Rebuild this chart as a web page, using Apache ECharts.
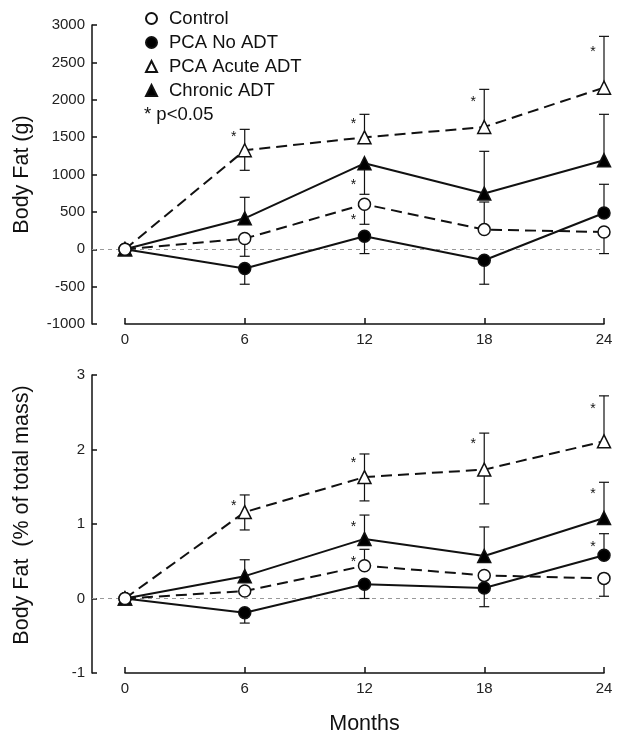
<!DOCTYPE html>
<html>
<head>
<meta charset="utf-8">
<script src="https://cdn.jsdelivr.net/npm/echarts@6/dist/echarts.min.js"></script>
<style>
  html, body { margin: 0; padding: 0; background: #fff; }
  #chart { width: 624px; height: 741px; }
</style>
</head>
<body>
<div id="chart"></div>
<script>
// months of follow-up
var months = [0, 6, 12, 18, 24];
var names = ['Control', 'PCA No ADT', 'PCA Acute ADT', 'Chronic ADT'];

// body fat, grams (top panel)
var controlG = [0, 143, 602, 263, 231];
var noAdtG = [0, -258, 174, -147, 485];
var acuteG = [0, 1324, 1497, 1635, 2162];
var chronicG = [0, 414, 1150, 745, 1190];
// visible error bar lengths (up / down), grams
var controlGUp = [0, 0, 0, 369, 0];
var controlGDn = [0, 237, 268, 0, 289];
var noAdtGUp = [0, 0, 0, 0, 384];
var noAdtGDn = [0, 210, 232, 321, 0];
var acuteGUp = [0, 280, 308, 504, 686];
var acuteGDn = [0, 268, 0, 0, 0];
var chronicGUp = [0, 281, 0, 565, 615];
var chronicGDn = [0, 0, 415, 0, 0];
// significance stars, grams
var starsG = [[6, 1551], [12, 1725], [12, 909], [12, 441], [18, 2019], [24, 2687]];

// body fat, % of total mass (bottom panel)
var controlP = [0, 0.10, 0.44, 0.31, 0.27];
var noAdtP = [0, -0.19, 0.19, 0.14, 0.58];
var acuteP = [0, 1.16, 1.63, 1.73, 2.11];
var chronicP = [0, 0.30, 0.80, 0.57, 1.08];
var controlPUp = [0, 0, 0.22, 0, 0];
var controlPDn = [0, 0, 0, 0, 0.24];
var noAdtPUp = [0, 0, 0, 0, 0.29];
var noAdtPDn = [0, 0.14, 0.19, 0.25, 0];
var acutePUp = [0, 0.23, 0.31, 0.49, 0.61];
var acutePDn = [0, 0.24, 0.32, 0.46, 0];
var chronicPUp = [0, 0.22, 0.32, 0.39, 0.48];
var chronicPDn = [0, 0, 0, 0, 0];
var starsP = [[6, 1.29], [12, 1.87], [12, 1.01], [12, 0.54], [18, 2.12], [24, 2.60], [24, 1.45], [24, 0.74]];

var FONT = 'Liberation Sans, Arial, sans-serif';
var XMIN = -1.652; // y axis sits left of month 0

var styles = [
  { symbol: 'circle', size: 12, fill: '#fff', dash: [11, 6], z: 4 },
  { symbol: 'circle', size: 12, fill: '#000', dash: 'solid', z: 3 },
  { symbol: 'triangle', size: 13, fill: '#fff', dash: [11, 6], z: 3 },
  { symbol: 'triangle', size: 13, fill: '#000', dash: 'solid', z: 3 }
];

function pairs(vals) {
  return months.map(function (m, i) { return [m, vals[i]]; });
}

function errData(list) { // list of [values, up, down]
  var out = [];
  list.forEach(function (s) {
    months.forEach(function (m, i) { out.push([m, s[0][i], s[1][i], s[2][i]]); });
  });
  return out;
}

function renderErr(params, api) {
  var x = api.value(0), y = api.value(1);
  var kids = [];
  [[api.value(2), 1], [api.value(3), -1]].forEach(function (e) {
    if (!e[0]) return;
    var p0 = api.coord([x, y]);
    var p1 = api.coord([x, y + e[0] * e[1]]);
    var st = { stroke: '#111', lineWidth: 1.2 };
    kids.push({ type: 'line', shape: { x1: p0[0], y1: p0[1], x2: p1[0], y2: p1[1] }, style: st });
    kids.push({ type: 'line', shape: { x1: p1[0] - 5, y1: p1[1], x2: p1[0] + 5, y2: p1[1] }, style: st });
  });
  return { type: 'group', children: kids };
}

function renderStar(params, api) {
  var p = api.coord([api.value(0), api.value(1)]);
  return {
    type: 'text', x: p[0] - 11, y: p[1] + 4,
    style: { text: '*', fill: '#111', font: '14px ' + FONT, align: 'center', verticalAlign: 'middle' }
  };
}

function panelSeries(idx, data, errs, stars) {
  var out = [];
  out.push({
    type: 'custom', xAxisIndex: idx, yAxisIndex: idx, z: 1, silent: true,
    renderItem: renderErr, data: errData(errs)
  });
  data.forEach(function (vals, k) {
    var s = styles[k];
    var ser = {
      name: names[k], type: 'line', xAxisIndex: idx, yAxisIndex: idx, z: s.z,
      data: pairs(vals), symbol: s.symbol, symbolSize: s.size,
      lineStyle: { color: '#111', width: 2, type: s.dash },
      itemStyle: { color: s.fill, borderColor: '#111', borderWidth: 1.5 },
      emphasis: { disabled: true }
    };
    if (k === 0) {
      ser.markLine = {
        silent: true, symbol: 'none', label: { show: false }, z: 1,
        lineStyle: { color: '#999', width: 1, type: [4, 4] },
        data: [{ yAxis: 0 }]
      };
    }
    out.push(ser);
  });
  out.push({
    type: 'custom', xAxisIndex: idx, yAxisIndex: idx, z: 5, silent: true,
    renderItem: renderStar, data: stars
  });
  return out;
}

// display axes (x axis line starts at month 0)
function showX(grid, name) {
  return {
    type: 'value', gridIndex: grid, min: 0, max: 24, interval: 6,
    name: name || '', nameLocation: 'middle', nameGap: 40,
    nameTextStyle: { fontSize: 21.5, color: '#111', fontFamily: FONT },
    axisLine: { show: true, onZero: false, lineStyle: { color: '#111', width: 1.5 } },
    axisTick: { show: true, inside: true, length: 6, lineStyle: { color: '#111', width: 1.5 } },
    axisLabel: { fontSize: 15, color: '#222', margin: 8, fontFamily: FONT },
    splitLine: { show: false }
  };
}
function hiddenX(grid) {
  return { type: 'value', gridIndex: grid, min: XMIN, max: 24, show: false, splitLine: { show: false } };
}
function showY(grid, min, max, step, name, shift) {
  return {
    type: 'value', gridIndex: grid, min: min, max: max, interval: step,
    name: name, nameLocation: 'middle', nameGap: 59, nameMoveOverlap: false,
    nameTextStyle: { fontSize: 21.5, color: '#111', fontFamily: FONT, padding: [0, 0, 0, shift] },
    axisLine: { show: true, onZero: false, lineStyle: { color: '#111', width: 1.5 } },
    axisTick: { show: true, inside: true, length: 5, lineStyle: { color: '#111', width: 1.5 } },
    axisLabel: {
      fontSize: 15, color: '#222', margin: 7, fontFamily: FONT,
      formatter: function (v) { return String(v); }
    },
    splitLine: { show: false }
  };
}
function hiddenY(grid) {
  return { type: 'value', gridIndex: grid, min: 0, max: 1, show: false, splitLine: { show: false } };
}

var chart = echarts.init(document.getElementById('chart'));

var option = {
  backgroundColor: '#fff',
  animation: false,
  textStyle: { fontFamily: FONT },
  grid: [
    { left: 92, right: 20, top: 25, height: 299 },
    { left: 125, right: 20, top: 25, height: 299 },
    { left: 92, right: 20, top: 375, height: 298 },
    { left: 125, right: 20, top: 375, height: 298 }
  ],
  xAxis: [hiddenX(0), showX(1), hiddenX(2), showX(3, 'Months')],
  yAxis: [
    showY(0, -1000, 3000, 500, 'Body Fat (g)', 0),
    hiddenY(1),
    showY(2, -1, 3, 1, 'Body Fat  (% of total mass)', 18),
    hiddenY(3)
  ],
  legend: {
    orient: 'vertical', left: 140, top: 4,
    itemWidth: 11, itemHeight: 11, itemGap: 5,
    textStyle: { fontSize: 18.5, color: '#111', fontFamily: FONT, padding: [0, 0, 0, 7] },
    selectedMode: false,
    data: names.map(function (n, k) {
      return { name: n, icon: styles[k].symbol };
    })
  },
  graphic: [{
    type: 'text', left: 144, top: 105,
    style: { text: '* p<0.05', font: '18.5px ' + FONT, fill: '#111' }
  }],
  series: [].concat(
    panelSeries(0, [controlG, noAdtG, acuteG, chronicG], [
      [controlG, controlGUp, controlGDn],
      [noAdtG, noAdtGUp, noAdtGDn],
      [acuteG, acuteGUp, acuteGDn],
      [chronicG, chronicGUp, chronicGDn]
    ], starsG),
    panelSeries(2, [controlP, noAdtP, acuteP, chronicP], [
      [controlP, controlPUp, controlPDn],
      [noAdtP, noAdtPUp, noAdtPDn],
      [acuteP, acutePUp, acutePDn],
      [chronicP, chronicPUp, chronicPDn]
    ], starsP)
  )
};

chart.setOption(option);
</script>
</body>
</html>
